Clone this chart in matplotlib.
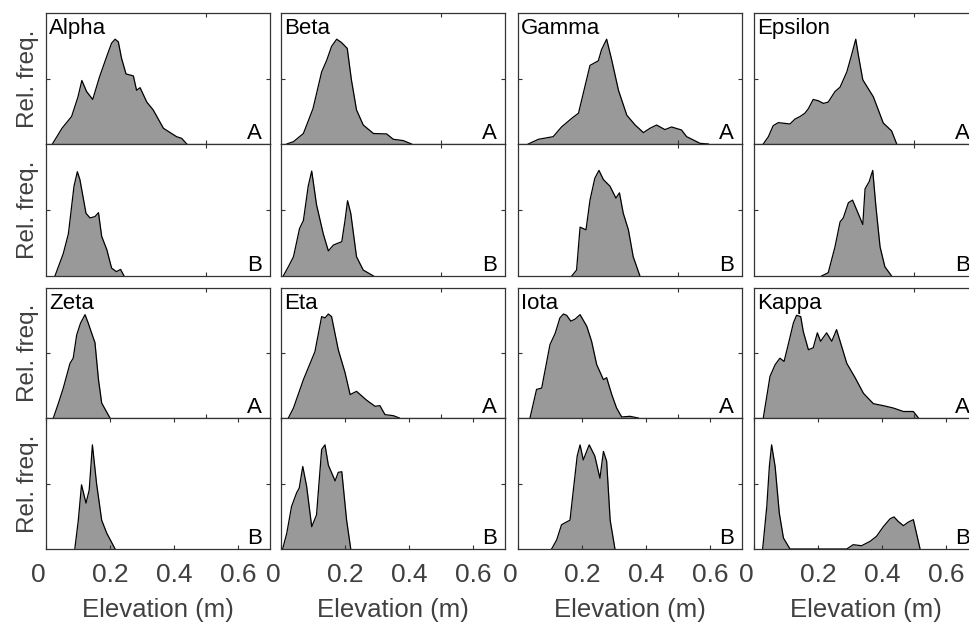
import numpy as np
import matplotlib.pyplot as plt
from matplotlib.transforms import ScaledTranslation

plt.rcParams['font.family'] = ['Liberation Sans', 'DejaVu Sans']

sites = ["Alpha", "Beta", "Gamma", "Epsilon", "Zeta", "Eta", "Iota", "Kappa"]

# elevation (m) / relative frequency, survey A and survey B
alpha_a_x = [0.02, 0.05, 0.08, 0.10, 0.112, 0.127, 0.146, 0.167, 0.19, 0.205, 0.216, 0.226,
             0.236, 0.25, 0.273, 0.283, 0.294, 0.315, 0.335, 0.367, 0.408, 0.424, 0.44]
alpha_a_y = [0, 0.12, 0.21, 0.36, 0.485, 0.40, 0.34, 0.51, 0.67, 0.77, 0.80, 0.78,
             0.655, 0.535, 0.52, 0.41, 0.43, 0.32, 0.26, 0.12, 0.056, 0.043, 0]
alpha_b_x = [0.028, 0.054, 0.07, 0.0875, 0.098, 0.106, 0.125, 0.1375, 0.153, 0.164, 0.174,
             0.19, 0.205, 0.22, 0.233, 0.244]
alpha_b_y = [0, 0.17, 0.32, 0.68, 0.79, 0.73, 0.475, 0.44, 0.45, 0.48, 0.30,
             0.20, 0.06, 0.033, 0.05, 0]

beta_a_x = [0.018, 0.039, 0.07, 0.10, 0.127, 0.143, 0.158, 0.174, 0.189, 0.207, 0.22,
            0.236, 0.257, 0.289, 0.33, 0.351, 0.382, 0.408]
beta_a_y = [0, 0.018, 0.08, 0.27, 0.55, 0.64, 0.745, 0.80, 0.775, 0.73, 0.49,
            0.26, 0.145, 0.08, 0.077, 0.036, 0.026, 0]
beta_b_x = [0.007, 0.023, 0.039, 0.058, 0.07, 0.085, 0.096, 0.111, 0.132, 0.148, 0.164,
            0.19, 0.20, 0.208, 0.218, 0.236, 0.257, 0.289]
beta_b_y = [0, 0.07, 0.146, 0.36, 0.42, 0.68, 0.795, 0.54, 0.32, 0.19, 0.235,
            0.26, 0.42, 0.57, 0.475, 0.146, 0.045, 0]

gamma_a_x = [0.032, 0.064, 0.11, 0.136, 0.168, 0.189, 0.225, 0.251, 0.261, 0.277, 0.293,
             0.314, 0.34, 0.366, 0.392, 0.4125, 0.433, 0.459, 0.48, 0.511, 0.527, 0.569, 0.595]
gamma_a_y = [0, 0.036, 0.056, 0.13, 0.196, 0.235, 0.60, 0.635, 0.72, 0.80, 0.64,
             0.41, 0.22, 0.145, 0.087, 0.12, 0.145, 0.11, 0.13, 0.107, 0.056, 0.005, 0]
gamma_b_x = [0.168, 0.183, 0.194, 0.2125, 0.225, 0.24, 0.253, 0.267, 0.2875, 0.306,
             0.317, 0.329, 0.345, 0.36, 0.381]
gamma_b_y = [0, 0.045, 0.37, 0.35, 0.575, 0.74, 0.80, 0.73, 0.68, 0.59,
             0.63, 0.475, 0.35, 0.146, 0]

epsilon_a_x = [0.029, 0.045, 0.06, 0.076, 0.1125, 0.128, 0.144, 0.159, 0.17, 0.185, 0.201,
               0.217, 0.232, 0.253, 0.269, 0.29, 0.305, 0.318, 0.326, 0.34, 0.373, 0.404,
               0.43, 0.446]
epsilon_a_y = [0, 0.056, 0.14, 0.163, 0.153, 0.19, 0.21, 0.235, 0.27, 0.34, 0.33,
               0.31, 0.32, 0.40, 0.434, 0.55, 0.68, 0.80, 0.68, 0.49, 0.36, 0.16,
               0.10, 0]
epsilon_b_x = [0.211, 0.232, 0.253, 0.269, 0.279, 0.295, 0.308, 0.321, 0.34, 0.347, 0.36,
               0.371, 0.381, 0.394, 0.409, 0.43]
epsilon_b_y = [0, 0.025, 0.22, 0.41, 0.44, 0.555, 0.575, 0.50, 0.39, 0.66, 0.715,
               0.80, 0.525, 0.22, 0.07, 0]

zeta_a_x = [0.023, 0.039, 0.054, 0.075, 0.085, 0.096, 0.108, 0.122, 0.132, 0.143, 0.153,
            0.164, 0.174, 0.2]
zeta_a_y = [0, 0.115, 0.23, 0.42, 0.46, 0.64, 0.73, 0.795, 0.73, 0.65, 0.58,
            0.295, 0.115, 0]
zeta_b_x = [0.09, 0.101, 0.111, 0.125, 0.135, 0.145, 0.158, 0.174, 0.19, 0.216]
zeta_b_y = [0, 0.22, 0.49, 0.35, 0.45, 0.795, 0.50, 0.22, 0.12, 0]

eta_a_x = [0.023, 0.039, 0.07, 0.106, 0.127, 0.1375, 0.148, 0.158, 0.179, 0.2, 0.216,
           0.236, 0.268, 0.294, 0.309, 0.325, 0.351, 0.37]
eta_a_y = [0, 0.077, 0.295, 0.51, 0.78, 0.77, 0.80, 0.78, 0.525, 0.35, 0.18,
           0.205, 0.136, 0.09, 0.095, 0.026, 0.018, 0]
eta_b_x = [0.005, 0.018, 0.033, 0.049, 0.057, 0.068, 0.08, 0.096, 0.111, 0.127, 0.1375,
           0.148, 0.169, 0.179, 0.19, 0.205, 0.218]
eta_b_y = [0, 0.12, 0.325, 0.43, 0.465, 0.63, 0.48, 0.17, 0.26, 0.76, 0.795,
           0.64, 0.52, 0.585, 0.59, 0.22, 0]

iota_a_x = [0.0375, 0.058, 0.074, 0.10, 0.116, 0.131, 0.142, 0.152, 0.165, 0.178, 0.194,
            0.215, 0.23, 0.246, 0.267, 0.277, 0.293, 0.308, 0.324, 0.35, 0.376]
iota_a_y = [0, 0.22, 0.23, 0.565, 0.65, 0.77, 0.80, 0.79, 0.745, 0.76, 0.795,
            0.705, 0.59, 0.41, 0.295, 0.31, 0.18, 0.077, 0.008, 0.013, 0]
iota_b_x = [0.105, 0.121, 0.136, 0.147, 0.1625, 0.173, 0.185, 0.194, 0.204, 0.2225, 0.24,
            0.256, 0.267, 0.277, 0.288, 0.303]
iota_b_y = [0, 0.07, 0.185, 0.20, 0.22, 0.45, 0.71, 0.795, 0.68, 0.795, 0.71,
            0.54, 0.745, 0.67, 0.22, 0]

kappa_a_x = [0.029, 0.04, 0.05, 0.066, 0.081, 0.094, 0.107, 0.123, 0.133, 0.146, 0.154,
             0.17, 0.185, 0.198, 0.208, 0.227, 0.243, 0.258, 0.274, 0.29, 0.316, 0.342,
             0.373, 0.404, 0.435, 0.467, 0.498, 0.514]
kappa_a_y = [0, 0.167, 0.32, 0.41, 0.46, 0.435, 0.565, 0.73, 0.79, 0.78, 0.665,
             0.525, 0.54, 0.655, 0.59, 0.655, 0.59, 0.68, 0.55, 0.42, 0.31, 0.19,
             0.11, 0.095, 0.077, 0.05, 0.05, 0]
kappa_b_x = [0.027, 0.04, 0.048, 0.055, 0.066, 0.079, 0.092, 0.1125, 0.29, 0.31, 0.336,
             0.3625, 0.383, 0.404, 0.425, 0.4375, 0.451, 0.467, 0.482, 0.498, 0.519]
kappa_b_y = [0, 0.325, 0.63, 0.795, 0.63, 0.275, 0.084, 0, 0, 0.033, 0.025,
             0.058, 0.097, 0.17, 0.23, 0.245, 0.21, 0.178, 0.205, 0.224, 0]

survey_a = [(alpha_a_x, alpha_a_y), (beta_a_x, beta_a_y), (gamma_a_x, gamma_a_y),
            (epsilon_a_x, epsilon_a_y), (zeta_a_x, zeta_a_y), (eta_a_x, eta_a_y),
            (iota_a_x, iota_a_y), (kappa_a_x, kappa_a_y)]
survey_b = [(alpha_b_x, alpha_b_y), (beta_b_x, beta_b_y), (gamma_b_x, gamma_b_y),
            (epsilon_b_x, epsilon_b_y), (zeta_b_x, zeta_b_y), (eta_b_x, eta_b_y),
            (iota_b_x, iota_b_y), (kappa_b_x, kappa_b_y)]

xticks = [0, 0.2, 0.4, 0.6]
xtick_labels = ["0", "0.2", "0.4", "0.6"]

W, H = 969, 622
fig = plt.figure(figsize=(W / 100, H / 100), dpi=100)

col_left = [46, 281, 518, 754]
col_w = 224
rows = [(13, 144, 276), (288, 418, 549)]
grey_txt = '#404040'


def style(ax, ticks):
    ax.set_xlim(0, 0.7)
    ax.set_ylim(0, 1)
    ax.set_yticks([0.5])
    ax.set_xticks(ticks)
    ax.tick_params(direction='in', length=3, width=0.8, color='#333333',
                   top=True, right=True, labelleft=False, labelbottom=False)
    for s in ax.spines.values():
        s.set_color('#333333')
        s.set_linewidth(0.9)


for i, name in enumerate(sites):
    r, c = divmod(i, 4)
    top, mid, bot = rows[r]
    left = col_left[c]
    ax_a = fig.add_axes([left / W, 1 - mid / H, col_w / W, (mid - top) / H])
    ax_b = fig.add_axes([left / W, 1 - bot / H, col_w / W, (bot - mid) / H])

    for ax, (x, y), tag in [(ax_a, survey_a[i], "A"), (ax_b, survey_b[i], "B")]:
        ax.fill_between(x, y, color='#999999', lw=0)
        ax.plot(x, y, color='black', lw=0.9)
        ax.text(0.965, 0.04, tag, transform=ax.transAxes, ha='right', va='baseline',
                fontsize=16)
        if c == 0:
            ax.set_ylabel("Rel. freq.", fontsize=17.5, color=grey_txt, labelpad=5)

    ax_a.text(0.015, 0.965, name, transform=ax_a.transAxes, ha='left', va='top',
              fontsize=16)

    style(ax_a, [0.5])
    style(ax_b, [0.5] if r == 0 else xticks)
    if r == 1:
        ax_b.set_xticks(xticks, xtick_labels)
        ax_b.tick_params(labelbottom=True, labelsize=19, labelcolor=grey_txt, pad=10)
        ax_b.set_xlabel("Elevation (m)", fontsize=18.5, color=grey_txt, labelpad=8)
        first = ax_b.xaxis.get_major_ticks()[0].label1
        first.set_transform(first.get_transform()
                            + ScaledTranslation(-0.08, 0, fig.dpi_scale_trans))

fig.savefig('out.png', dpi=100)
